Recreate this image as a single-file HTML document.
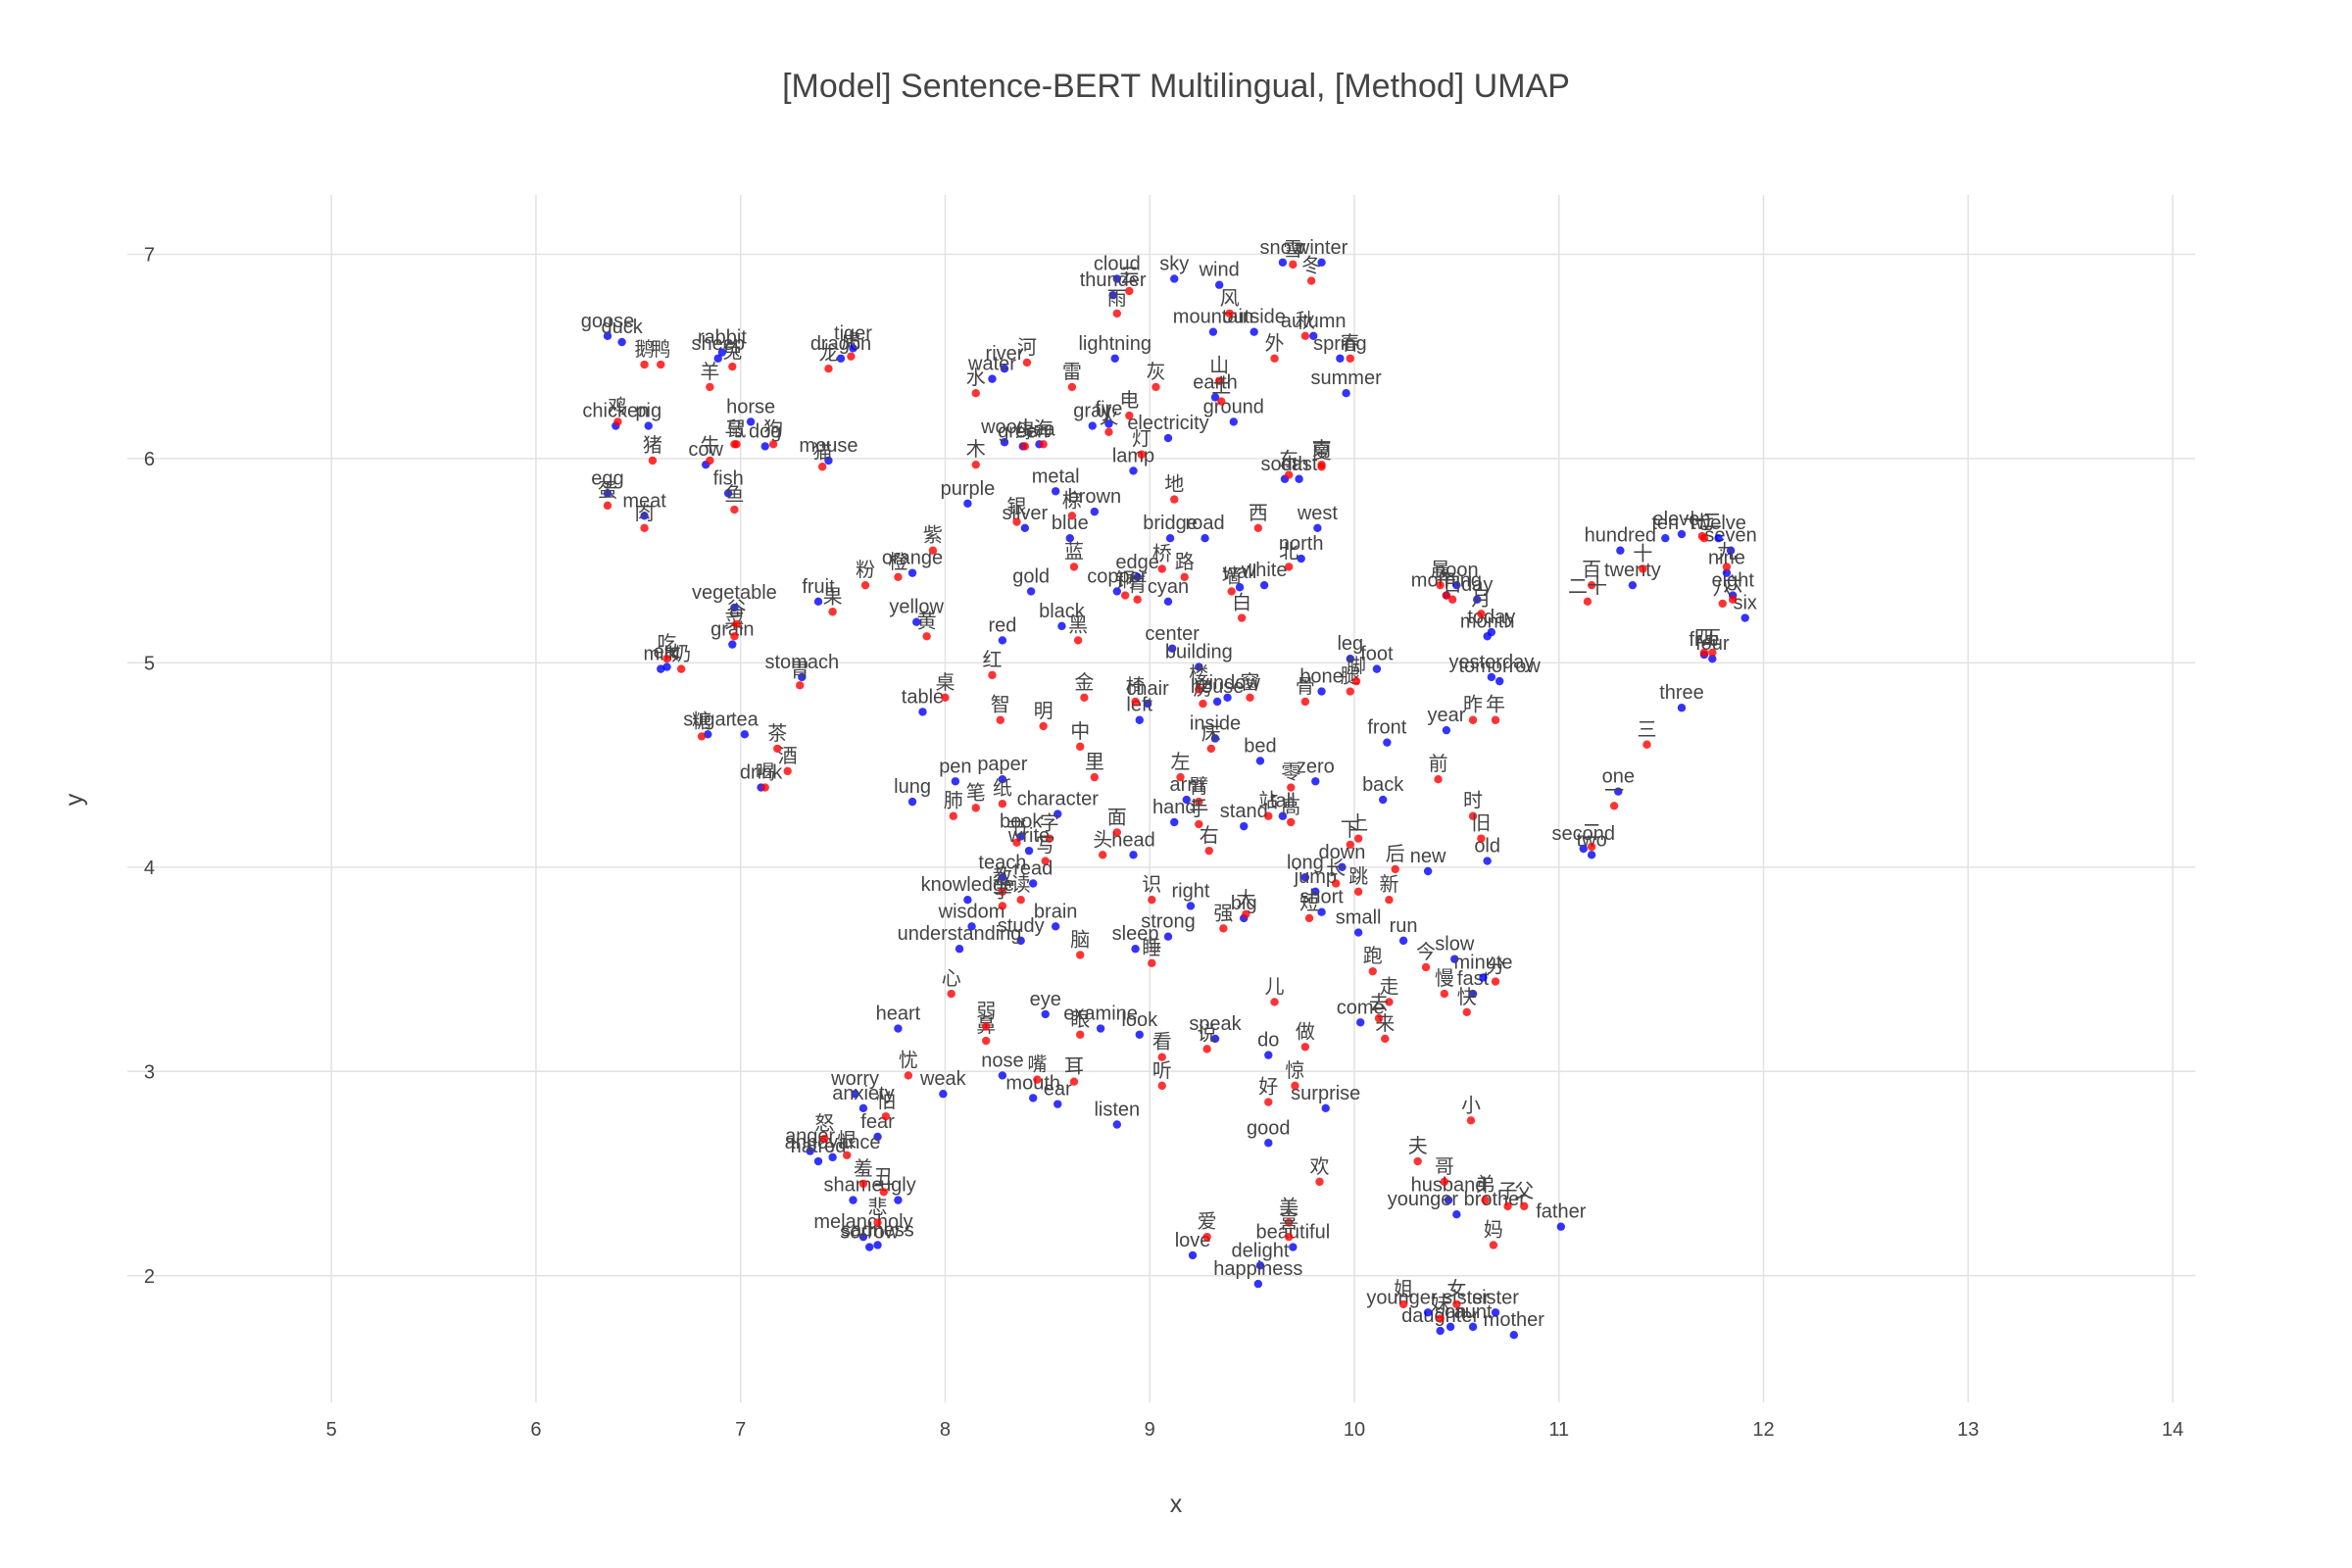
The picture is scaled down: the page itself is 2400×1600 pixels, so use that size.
<!DOCTYPE html>
<html><head><meta charset="utf-8">
<style>
html,body{margin:0;padding:0;background:#fff;}
svg{display:block;font-family:"Liberation Sans","Noto Sans CJK SC",sans-serif;}
</style></head>
<body>
<svg id="chart" width="2400" height="1600" viewBox="0 0 2400 1600">
<rect width="2400" height="1600" fill="#fff"/>
<text x="1200" y="99" text-anchor="middle" font-size="34" fill="#444">[Model] Sentence-BERT Multilingual, [Method] UMAP</text>
<g id="grid"></g>
<g id="ticks"></g>
<g id="marks"></g>
<text x="1200" y="1543" text-anchor="middle" font-size="25" fill="#444">x</text>
<text x="0" y="0" transform="translate(84,816) rotate(-90)" text-anchor="middle" font-size="25" fill="#444">y</text>
</svg>
<script>
const xTicks=[5,6,7,8,9,10,11,12,13,14];
const yTicks=[2,3,4,5,6,7];
const enWords=["goose","duck","sheep","rabbit","dragon","tiger","chicken","pig","horse","dog","cow","mouse","egg","meat","fish","vegetable","fruit","eat","milk","grain","stomach","sugar","tea","drink","cloud","thunder","sky","wind","snow","winter","mountain","outside","autumn","spring","summer","river","water","lightning","earth","fire","gray","electricity","ground","wood","green","sea","lamp","south","east","purple","metal","brown","silver","blue","bridge","road","west","north","gold","copper","cyan","edge","wall","white","black","red","center","building","leg","foot","bone","window","house","chair","left","inside","bed","yellow","orange","table","pen","paper","lung","character","book","write","teach","read","knowledge","wisdom","brain","study","understanding","arm","hand","head","stand","tall","zero","long","down","jump","short","small","right","strong","sleep","big","back","front","new","run","come","slow","fast","minute","heart","eye","examine","look","speak","nose","mouth","ear","weak","listen","do","surprise","good","worry","anxiety","fear","anger","annoyance","hatred","shame","ugly","melancholy","sorrow","sadness","love","beautiful","delight","happiness","husband","younger brother","father","mother","daughter","younger sister","sister","son","aunt","morning","noon","day","month","today","yesterday","tomorrow","year","old","second","two","one","three","four","five","six","eight","nine","seven","twelve","eleven","ten","hundred","twenty"];
const enX=[6.35,6.42,6.89,6.91,7.49,7.55,6.39,6.55,7.05,7.12,6.83,7.43,6.35,6.53,6.94,6.97,7.38,6.64,6.61,6.96,7.30,6.84,7.02,7.10,8.84,8.82,9.12,9.34,9.65,9.84,9.31,9.51,9.80,9.93,9.96,8.29,8.23,8.83,9.32,8.80,8.72,9.09,9.41,8.29,8.38,8.46,8.92,9.66,9.73,8.11,8.54,8.73,8.39,8.61,9.10,9.27,9.82,9.74,8.42,8.84,9.09,8.94,9.44,9.56,8.57,8.28,9.11,9.24,9.98,10.11,9.84,9.38,9.33,8.99,8.95,9.32,9.54,7.86,7.84,7.89,8.05,8.28,7.84,8.55,8.37,8.41,8.28,8.43,8.11,8.13,8.54,8.37,8.07,9.18,9.12,8.92,9.46,9.65,9.81,9.76,9.94,9.81,9.84,10.02,9.20,9.09,8.93,9.46,10.14,10.16,10.36,10.24,10.03,10.49,10.58,10.63,7.77,8.49,8.76,8.95,9.32,8.28,8.43,8.55,7.99,8.84,9.58,9.86,9.58,7.56,7.60,7.67,7.34,7.45,7.38,7.55,7.77,7.60,7.63,7.67,9.21,9.70,9.54,9.53,10.46,10.50,11.01,10.78,10.42,10.36,10.69,10.47,10.58,10.45,10.50,10.60,10.65,10.67,10.67,10.71,10.45,10.65,11.12,11.16,11.29,11.60,11.75,11.71,11.91,11.85,11.82,11.84,11.78,11.60,11.52,11.30,11.36];
const enY=[6.60,6.57,6.49,6.52,6.49,6.54,6.16,6.16,6.18,6.06,5.97,5.99,5.83,5.72,5.83,5.27,5.30,4.98,4.97,5.09,4.93,4.65,4.65,4.39,6.88,6.80,6.88,6.85,6.96,6.96,6.62,6.62,6.60,6.49,6.32,6.44,6.39,6.49,6.30,6.17,6.16,6.10,6.18,6.08,6.06,6.07,5.94,5.90,5.90,5.78,5.84,5.74,5.66,5.61,5.61,5.61,5.66,5.51,5.35,5.35,5.30,5.42,5.37,5.38,5.18,5.11,5.07,4.98,5.02,4.97,4.86,4.83,4.81,4.80,4.72,4.63,4.52,5.20,5.44,4.76,4.42,4.43,4.32,4.26,4.15,4.08,3.95,3.92,3.84,3.71,3.71,3.64,3.60,4.33,4.22,4.06,4.20,4.25,4.42,3.95,4.00,3.88,3.78,3.68,3.81,3.66,3.60,3.75,4.33,4.61,3.98,3.64,3.24,3.55,3.38,3.46,3.21,3.28,3.21,3.18,3.16,2.98,2.87,2.84,2.89,2.74,3.08,2.82,2.65,2.89,2.82,2.68,2.61,2.58,2.56,2.37,2.37,2.19,2.14,2.15,2.10,2.14,2.05,1.96,2.37,2.30,2.24,1.71,1.73,1.82,1.82,1.75,1.75,5.33,5.38,5.31,5.13,5.15,4.93,4.91,4.67,4.03,4.09,4.06,4.37,4.78,5.02,5.04,5.22,5.33,5.44,5.55,5.61,5.63,5.61,5.55,5.38];
const zhWords=["鹅","鸭","羊","兔","龙","虎","鸡","猪","马","狗","牛","鼠","猫","蛋","肉","鱼","菜","果","吃","奶","谷","胃","糖","茶","酒","喝","云","雷","雨","风","雪","冬","山","外","秋","春","夏","河","水","电","灰","土","火","地","木","绿","海","灯","南","东","紫","金","银","棕","蓝","桥","路","西","北","黄","橙","粉","红","铜","青","墙","白","黑","中","楼","腿","脚","骨","窗","房","椅","左","里","床","桌","笔","纸","肺","字","书","写","教","读","识","智","脑","学","明","臂","手","头","面","站","高","零","长","下","上","跳","短","右","强","睡","大","后","前","新","跑","走","来","去","慢","快","分","心","眼","看","说","鼻","嘴","耳","弱","听","做","惊","好","忧","怕","怒","恨","羞","丑","悲","爱","美","喜","欢","小","夫","哥","弟","子","父","妈","姐","妹","女","儿","晨","午","日","月","今","昨","年","时","旧","二","一","三","四","五","六","八","九","七","十二","十","百","二十"];
const zhX=[6.53,6.61,6.85,6.96,7.43,7.54,6.40,6.57,6.97,7.16,6.85,6.98,7.40,6.35,6.53,6.97,6.97,7.45,6.64,6.71,6.98,7.29,6.81,7.18,7.23,7.12,8.90,8.62,8.84,9.39,9.70,9.79,9.34,9.61,9.76,9.98,9.84,8.40,8.15,8.90,9.03,9.35,8.80,9.12,8.15,8.39,8.48,8.96,9.84,9.68,7.94,8.68,8.35,8.62,8.63,9.06,9.17,9.53,9.68,7.91,7.77,7.61,8.23,8.88,8.94,9.40,9.45,8.65,8.66,9.24,9.98,10.01,9.76,9.49,9.26,8.93,9.15,8.73,9.30,8.00,8.15,8.28,8.04,8.51,8.35,8.49,8.28,8.37,9.01,8.27,8.66,8.28,8.48,9.24,9.24,8.77,8.84,9.58,9.69,9.69,9.91,9.98,10.02,10.02,9.78,9.29,9.36,9.01,9.47,10.20,10.41,10.17,10.09,10.17,10.15,10.12,10.44,10.55,10.69,8.03,8.66,9.06,9.28,8.20,8.45,8.63,8.20,9.06,9.76,9.71,9.58,7.82,7.71,7.41,7.52,7.60,7.70,7.67,9.28,9.68,9.68,9.83,10.57,10.31,10.44,10.64,10.75,10.83,10.68,10.24,10.42,10.50,9.61,10.42,10.45,10.48,10.62,10.35,10.58,10.69,10.58,10.62,11.16,11.27,11.43,11.71,11.75,11.85,11.80,11.82,11.71,11.70,11.41,11.16,11.14];
const zhY=[6.46,6.46,6.35,6.45,6.44,6.50,6.18,5.99,6.07,6.07,5.99,6.07,5.96,5.77,5.66,5.75,5.13,5.25,5.02,4.97,5.19,4.89,4.64,4.58,4.47,4.39,6.82,6.35,6.71,6.71,6.95,6.87,6.38,6.49,6.60,6.49,5.96,6.47,6.32,6.21,6.35,6.28,6.13,5.80,5.97,6.06,6.07,6.02,5.97,5.92,5.55,4.83,5.69,5.72,5.47,5.46,5.42,5.66,5.47,5.13,5.42,5.38,4.94,5.33,5.31,5.35,5.22,5.11,4.59,4.87,4.86,4.91,4.81,4.83,4.80,4.81,4.44,4.44,4.58,4.83,4.29,4.31,4.25,4.14,4.12,4.03,3.88,3.84,3.84,4.72,3.57,3.81,4.69,4.32,4.21,4.06,4.17,4.25,4.22,4.39,3.92,4.11,4.14,3.88,3.75,4.08,3.70,3.53,3.77,3.99,4.43,3.84,3.49,3.34,3.16,3.26,3.38,3.29,3.44,3.38,3.18,3.07,3.11,3.15,2.96,2.95,3.22,2.93,3.12,2.93,2.85,2.98,2.78,2.67,2.59,2.45,2.41,2.26,2.19,2.26,2.19,2.46,2.76,2.56,2.46,2.37,2.34,2.34,2.15,1.86,1.79,1.86,3.34,5.38,5.33,5.31,5.24,3.51,4.72,4.72,4.25,4.14,4.10,4.30,4.60,5.05,5.05,5.31,5.29,5.47,5.61,5.62,5.46,5.38,5.30];

const L=130,R=2240,T=199,B=1431,X0=4.003,X1=14.11,Y0=1.38,Y1=7.29;
function sx(v){return L+(v-X0)/(X1-X0)*(R-L);}
function sy(v){return B-(v-Y0)/(Y1-Y0)*(B-T);}
const NS="http://www.w3.org/2000/svg";
function mk(tag,attrs,parent){const e=document.createElementNS(NS,tag);for(const k in attrs)e.setAttribute(k,attrs[k]);parent.appendChild(e);return e;}
const grid=document.getElementById('grid'),ticks=document.getElementById('ticks'),marks=document.getElementById('marks');
xTicks.forEach(t=>{
  const l=mk('line',{x1:sx(t),x2:sx(t),y1:T,y2:B,stroke:'#e2e2e2','stroke-width':1.5},grid);
  
  
  const tx=mk('text',{x:sx(t),y:1465,'text-anchor':'middle','font-size':20,fill:'#444'},ticks);
  tx.textContent=t;
  
  
});
yTicks.forEach(t=>{
  const l=mk('line',{x1:L,x2:R,y1:sy(t),y2:sy(t),stroke:'#e2e2e2','stroke-width':1.5},grid);
  
  
  const tx=mk('text',{x:158,y:sy(t)+7,'text-anchor':'end','font-size':20,fill:'#444'},ticks);
  tx.textContent=t;
  
  
});
function draw(words,xs,ys,color,name){
  for(let i=0;i<words.length;i++){
    const cx=sx(xs[i]),cy=sy(ys[i]);
    const c=mk('circle',{cx:cx,cy:cy,r:4.2,fill:color,'fill-opacity':0.8},marks);
    
    
    const t=mk('text',{x:cx,y:cy-9,'text-anchor':'middle','font-size':20,fill:'#444'},marks);
    t.textContent=words[i];
    
    
  }
}
draw(enWords,enX,enY,'#0000ff','english');
draw(zhWords,zhX,zhY,'#ff0000','chinese');
</script>
</body></html>
